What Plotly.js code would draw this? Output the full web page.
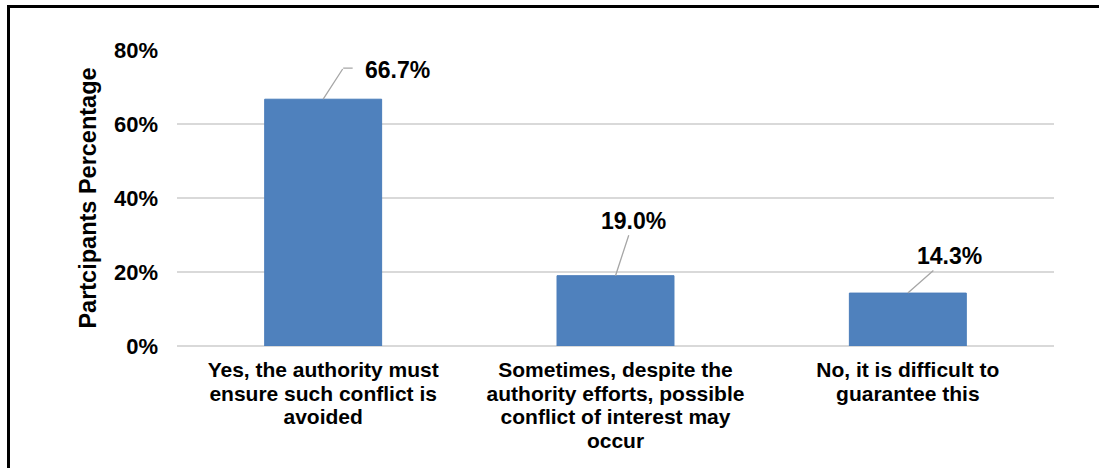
<!DOCTYPE html>
<html>
<head>
<meta charset="utf-8">
<script src="https://cdn.plot.ly/plotly-3.0.1.min.js"></script>
<style>
  html, body { margin: 0; padding: 0; background: #ffffff; }
  #wrap { position: relative; width: 1099px; height: 468px; overflow: hidden; }
  #frame { position: absolute; left: 7px; top: 5px; width: 1200px; height: 600px;
           border-left: 3px solid #000; border-top: 3px solid #000; pointer-events: none; z-index: 5; }
  #chart { position: absolute; left: 0; top: 0; width: 1099px; height: 468px; }
</style>
</head>
<body>
<div id="wrap">
  <div id="chart"></div>
  <div id="frame"></div>
</div>
<script>
const categories = [
  "Yes, the authority must ensure such conflict is avoided",
  "Sometimes, despite the authority efforts, possible conflict of interest may occur",
  "No, it is difficult to guarantee this"
];
const tickLabels = [
  "Yes, the authority must<br>ensure such conflict is<br>avoided",
  "Sometimes, despite the<br>authority efforts, possible<br>conflict of interest may<br>occur",
  "No, it is difficult to<br>guarantee this"
];
const values = [0.667, 0.190, 0.143];
const valueLabels = ["66.7%", "19.0%", "14.3%"];
const yTickVals = [0, 0.2, 0.4, 0.6, 0.8];
const yTickText = ["0%", "20%", "40%", "60%", "80%"];

const boldFont = "Liberation Sans, Arial, sans-serif";
const leaderColor = "#A6A6A6";

const trace = {
  type: "bar",
  x: categories,
  y: values,
  width: 0.4,
  marker: { color: "#4F81BD", line: { color: "#4A7DBA", width: 1 } },
  hoverinfo: "skip"
};

const labelFont = { family: boldFont, size: 23, color: "#000", weight: 700 };
const tinyFont = { family: boldFont, size: 1, color: "rgba(0,0,0,0)" };

const annotations = [
  // 66.7% label with elbow leader line
  { x: categories[0], y: values[0], text: valueLabels[0], showarrow: false,
    xshift: 74, yshift: 29, font: labelFont },
  { x: categories[0], y: values[0], text: " ", showarrow: true, arrowhead: 0,
    arrowwidth: 1.3, arrowcolor: leaderColor, ax: 20, ay: -31, standoff: 0,
    borderpad: 0, font: tinyFont },
  { x: categories[0], y: values[0], text: " ", showarrow: true, arrowhead: 0,
    arrowwidth: 1.3, arrowcolor: leaderColor, xshift: 20, yshift: 31, ax: 10, ay: 0,
    standoff: 0, borderpad: 0, font: tinyFont },
  // 19.0%
  { x: categories[1], y: values[1], text: valueLabels[1], showarrow: true, arrowhead: 0,
    arrowwidth: 1.3, arrowcolor: leaderColor, ax: 18, ay: -55, standoff: 0, font: labelFont },
  // 14.3%
  { x: categories[2], y: values[2], text: valueLabels[2], showarrow: true, arrowhead: 0,
    arrowwidth: 1.3, arrowcolor: leaderColor, ax: 42, ay: -37, standoff: 0, font: labelFont }
].map(a => Object.assign({ xref: "x", yref: "y" }, a));

const layout = {
  width: 1099, height: 468,
  margin: { l: 177, r: 45, t: 50, b: 122 },
  paper_bgcolor: "#ffffff", plot_bgcolor: "#ffffff",
  showlegend: false,
  bargap: 0.6,
  xaxis: {
    type: "category",
    tickvals: categories, ticktext: tickLabels,
    tickangle: 0,
    tickfont: { family: boldFont, size: 21, color: "#000", weight: 700 },
    showgrid: false, showline: false, ticks: "", zeroline: false,
    ticklabelstandoff: 9
  },
  yaxis: {
    range: [0, 0.8],
    tickvals: yTickVals, ticktext: yTickText,
    tickfont: { family: boldFont, size: 22, color: "#000", weight: 700 },
    showgrid: true, gridcolor: "#D9D9D9", gridwidth: 1.5,
    zeroline: true, zerolinecolor: "#D9D9D9", zerolinewidth: 1.5,
    showline: false, ticks: "",
    ticklabelstandoff: 18,
    title: { text: "Partcipants Percentage", standoff: 10,
             font: { family: boldFont, size: 23.5, color: "#000", weight: 700 } }
  },
  annotations: annotations
};

Plotly.newPlot("chart", [trace], layout, { displayModeBar: false, staticPlot: true }).then(gd => {
  // tighter line spacing for the multi-line category labels (as in the original)
  gd.querySelectorAll(".xtick text tspan.line").forEach(ts => {
    const dy = ts.getAttribute("dy");
    if (dy && dy.endsWith("em")) {
      ts.setAttribute("dy", (parseFloat(dy) * 1.13 / 1.3) + "em");
    }
  });
});
</script>
</body>
</html>
